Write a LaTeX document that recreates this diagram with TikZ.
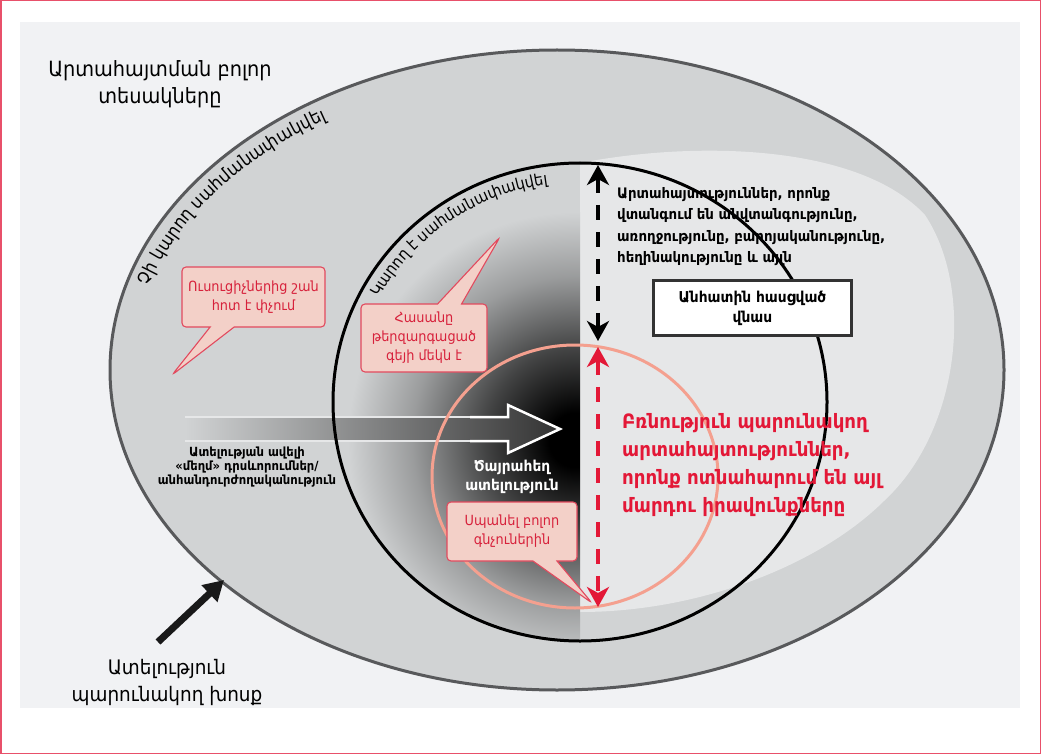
\documentclass[tikz,border=0pt]{standalone}
\usepackage{fontspec}
\setmainfont{DejaVu Sans}
\newfontfamily\armfont[FakeStretch=0.92]{DejaVu Sans}
\usetikzlibrary{arrows.meta,decorations.text,shapes.callouts}
\definecolor{panelbg}{HTML}{F1F2F4}
\definecolor{ringgray}{HTML}{D1D3D4}
\definecolor{lightzone}{HTML}{E6E7E8}
\definecolor{rimgray}{HTML}{58595B}
\definecolor{hatered}{HTML}{E31837}
\definecolor{salmonline}{HTML}{F4A08F}
\definecolor{calloutfill}{HTML}{F3D0C8}
\definecolor{calloutedge}{HTML}{E24A5E}
\definecolor{callouttext}{HTML}{D7213B}
\definecolor{frameline}{HTML}{E8506A}
\pgfdeclareradialshading{hatecore}{\pgfpoint{0bp}{0bp}}{%
  color(0bp)=(black); color(3bp)=(black); color(10bp)=(black!68!ringgray);
  color(18bp)=(black!26!ringgray); color(25bp)=(ringgray); color(50bp)=(ringgray)}
\tikzset{
  callbox/.style={rectangle callout, fill=calloutfill, draw=calloutedge, line width=1.1pt,
    rounded corners=4pt, text=callouttext, font=\armfont\fontsize{14}{19}\selectfont,
    align=center, inner sep=3pt, callout pointer width=24pt},
  dasharrow/.style={line width=4.5pt, dash pattern=on 15pt off 12pt,
    >={Stealth[length=20pt,width=22pt,inset=6pt]}, <->},
  plaintext/.style={align=center, inner sep=0pt},
}
\begin{document}
\begin{tikzpicture}[x=1pt, y=-1pt]
\useasboundingbox (0,0) rectangle (1041,754);
% frame and panel
\fill[white] (0,0) rectangle (1041,754);
\fill[panelbg] (20,22) rectangle (1020,708);
\draw[frameline, line width=1.5pt] (0.75,0.75) rectangle (1040.25,753.25);
% outer ellipse
\filldraw[fill=ringgray, draw=rimgray, line width=3pt] (557,370) ellipse [x radius=447pt, y radius=320pt];
% light zone on the right
\fill[lightzone] (580,612) -- (580,163) .. controls (700,140) and (860,145) .. (925,215)
  .. controls (975,290) and (960,430) .. (885,500) .. controls (820,565) and (700,612) .. (580,612) -- cycle;
% dark radial core, left half
\begin{scope}
  \clip (0,0) rectangle (580,754);
  \clip (580,402) ellipse [x radius=247pt, y radius=239pt];
  \shade[shading=hatecore] (576,440) circle [radius=228pt];
\end{scope}
% big gradient arrow
\shade[left color=ringgray, right color=black!80] (185,417) -- (508,417) -- (508,405) -- (560,429)
  -- (508,453) -- (508,441) -- (185,441) -- cycle;
\draw[lightzone, line width=2pt] (185,417) -- (508,417);
\draw[lightzone, line width=2pt] (185,441) -- (508,441);
\draw[white, line width=2.5pt, line join=miter] (470,417) -- (508,417) -- (508,405) -- (560,429)
  -- (508,453) -- (508,441) -- (470,441);
% circles
\draw[salmonline, line width=3pt] (575,476.5) ellipse [x radius=143pt, y radius=131.5pt];
\draw[black, line width=3pt] (580,402) ellipse [x radius=247pt, y radius=239pt];
% curved labels
\path[decorate, decoration={text along path, text align=center,
   text={|\armfont\fontsize{18}{18}\selectfont|Չի կարող սահմանափակվել}}]
  plot[domain=190:242, samples=80, variable=\t] ({557+425*cos(\t)},{370+298*sin(\t)});
\path[decorate, decoration={text along path, text align=center,
   text={|\armfont\fontsize{16}{16}\selectfont|Կարող է սահմանափակվել}}]
  plot[domain=200:270, samples=80, variable=\t] ({580+228*cos(\t)},{402+220*sin(\t)});
% texts
\node[plaintext, font=\armfont\fontsize{21}{27}\selectfont] (title) at (160,84) {Արտահայտման բոլոր\\տեսակները};
\node[plaintext, font=\armfont\fontsize{20}{27}\selectfont] (speech) at (167,682) {Ատելություն\\պարունակող խոսք};
\node[plaintext, font=\armfont\bfseries\fontsize{12.6}{14}\selectfont] (mild) at (247,467) {Ատելության ավելի\\«մեղմ» դրսևորումներ/\\անհանդուրժողականություն};
\node[plaintext, align=left, anchor=north west, font=\armfont\bfseries\fontsize{14.5}{21.5}\selectfont] (threat) at (617,187)
  {Արտահայտություններ, որոնք\\վտանգում են անվտանգությունը,\\առողջությունը, բարոյականությունը,\\հեղինակությունը և այլն};
\node[plaintext, align=left, anchor=north west, text=hatered, font=\armfont\bfseries\fontsize{19.8}{28}\selectfont] (violent) at (622,413)
  {Բռնություն պարունակող\\արտահայտություններ,\\որոնք ոտնահարում են այլ\\մարդու իրավունքները};
\node[plaintext, text=white, font=\armfont\bfseries\fontsize{15}{19}\selectfont] (extreme) at (512,477) {Ծայրահեղ\\ատելություն};
\node[draw=black!80, line width=3pt, fill=white, minimum width=198pt, minimum height=55pt, align=center,
  font=\armfont\bfseries\fontsize{15}{20}\selectfont] (harm) at (752.5,308) {Անհատին հասցված\\վնաս};
% callouts
\node[callbox, minimum width=143pt, minimum height=60pt, callout absolute pointer={(172,375)}] (c1) at (253.5,297) {Ուսուցիչներից շան\\հոտ է փչում};
\node[callbox, minimum width=126pt, minimum height=68pt, callout absolute pointer={(500,237)}] (c2) at (424,338) {Հասանը\\թերզարգացած\\գեյի մեկն է};
\node[callbox, minimum width=130pt, minimum height=59pt, callout absolute pointer={(592,603)}] (c3) at (512,531.5) {Սպանել բոլոր\\գնչուներին};
% dashed arrows
\coordinate (btop) at (598,165);
\coordinate (bmid) at (598,341);
\coordinate (rmid) at (598,347);
\coordinate (rbot) at (598,607);
\draw[dasharrow, black] (btop) -- (bmid);
\draw[dasharrow, hatered] (rmid) -- (rbot);
% pointer arrow to outer ellipse
\coordinate (ptail) at (158,642);
\coordinate (ptip) at (224,580);
\draw[line width=7pt, -{Triangle[length=20pt,width=22pt]}, black!90] (ptail) -- (ptip);
\end{tikzpicture}
\end{document}
